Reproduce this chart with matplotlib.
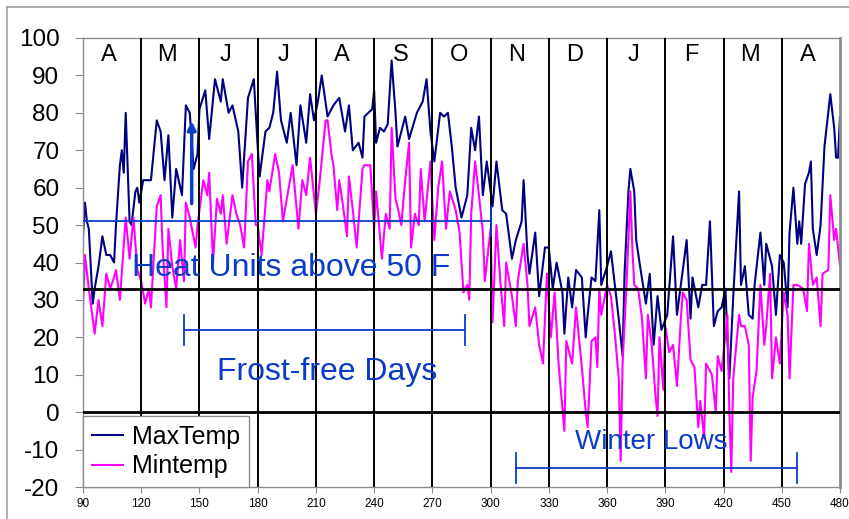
import matplotlib
matplotlib.use("Agg")
import matplotlib.pyplot as plt
from matplotlib.lines import Line2D

plt.rcParams['font.family'] = ['Liberation Sans', 'DejaVu Sans']
plt.rcParams['axes.unicode_minus'] = False


# Month letters along the top, April through the following April
months = ['A', 'M', 'J', 'J', 'A', 'S', 'O', 'N', 'D', 'J', 'F', 'M', 'A']

# Daily highs (day of year, deg F)
max_day = [90, 91, 92, 93, 95, 96, 98, 100, 102, 104,
           106, 107, 109, 110, 111, 112, 114, 115, 117, 118,
           119, 121, 123, 125, 128, 130, 132, 134, 136, 138,
           141, 143, 145, 147, 149, 150, 153, 155, 158, 161,
           162, 165, 167, 170, 172, 175, 178, 180, 181, 184,
           186, 188, 190, 192, 195, 197, 200, 202, 205, 207,
           209, 211, 213, 216, 219, 222, 225, 227, 229, 232,
           234, 235, 239, 240, 241, 243, 245, 247, 249, 251,
           252, 256, 258, 262, 265, 267, 269, 271, 274, 276,
           278, 280, 282, 285, 288, 290, 292, 294, 296, 298,
           301, 303, 306, 308, 311, 313, 316, 317, 319, 320,
           323, 325, 328, 330, 332, 334, 337, 338, 340, 342,
           344, 347, 349, 350, 352, 354, 356, 357, 360, 362,
           364, 366, 368, 369, 371, 372, 374, 375, 377, 380,
           382, 384, 386, 388, 391, 394, 396, 398, 401, 403,
           404, 407, 409, 411, 413, 415, 417, 419, 421, 422,
           423, 425, 428, 429, 431, 433, 435, 436, 439, 441,
           442, 445, 447, 449, 451, 453, 454, 456, 458, 459,
           460, 462, 464, 465, 466, 468, 470, 472, 475, 477,
           478, 479, 480]
max_temp = [47, 56, 51, 49, 29, 33, 39, 47, 42, 42,
            40, 50, 66, 70, 64, 80, 51, 50, 59, 60,
            56, 62, 62, 62, 78, 75, 62, 74, 52, 65,
            58, 82, 80, 65, 69, 81, 86, 73, 89, 83,
            89, 80, 82, 75, 60, 84, 89, 71, 63, 75,
            76, 80, 91, 78, 72, 80, 66, 82, 72, 85,
            78, 83, 90, 79, 82, 84, 75, 82, 70, 72,
            68, 79, 81, 86, 72, 76, 75, 77, 94, 80,
            71, 79, 73, 80, 83, 89, 75, 67, 80, 79,
            80, 71, 60, 52, 58, 76, 70, 79, 58, 67,
            55, 67, 54, 53, 41, 46, 51, 62, 42, 37,
            48, 31, 44, 44, 33, 40, 32, 21, 36, 28,
            38, 36, 20, 26, 36, 35, 54, 34, 39, 43,
            34, 25, 15, 37, 59, 65, 59, 46, 39, 29,
            37, 18, 31, 22, 26, 47, 26, 34, 46, 25,
            36, 28, 34, 34, 51, 23, 27, 28, 33, 19,
            9, 31, 59, 34, 39, 26, 25, 34, 48, 34,
            45, 39, 26, 42, 40, 28, 48, 60, 45, 51,
            45, 61, 64, 67, 49, 42, 50, 71, 85, 76,
            68, 68, 79]

# Daily lows
min_day = [90, 91, 93, 96, 98, 100, 102, 104, 106, 107,
           109, 112, 114, 116, 118, 120, 122, 124, 125, 128,
           130, 131, 133, 134, 136, 138, 140, 142, 143, 145,
           148, 149, 152, 154, 155, 157, 159, 161, 162, 164,
           167, 169, 171, 173, 175, 177, 179, 180, 182, 185,
           186, 189, 191, 193, 196, 198, 201, 203, 205, 207,
           209, 210, 212, 215, 216, 218, 219, 221, 222, 224,
           226, 227, 229, 231, 234, 235, 238, 240, 241, 244,
           246, 248, 249, 251, 252, 254, 256, 258, 259, 261,
           263, 264, 266, 269, 271, 273, 275, 277, 279, 282,
           284, 286, 288, 289, 290, 292, 294, 296, 297, 300,
           301, 303, 305, 307, 308, 311, 313, 314, 317, 319,
           320, 323, 325, 327, 329, 331, 333, 335, 338, 339,
           342, 344, 347, 349, 350, 352, 354, 355, 356, 357,
           360, 362, 364, 366, 367, 368, 370, 372, 373, 374,
           376, 378, 380, 381, 383, 385, 386, 387, 389, 390,
           392, 394, 396, 398, 399, 401, 403, 405, 407, 408,
           410, 411, 414, 416, 417, 419, 422, 423, 424, 425,
           428, 429, 431, 433, 434, 435, 437, 439, 441, 442,
           444, 445, 447, 449, 451, 453, 454, 456, 458, 461,
           463, 464, 466, 468, 470, 471, 474, 475, 477, 478,
           480]
min_temp = [28, 42, 33, 21, 30, 23, 37, 33, 36, 38,
            30, 52, 41, 52, 38, 35, 29, 33, 28, 55,
            58, 44, 28, 49, 39, 33, 46, 35, 56, 52,
            44, 50, 62, 58, 64, 40, 57, 53, 58, 45,
            58, 53, 50, 44, 67, 69, 50, 50, 42, 62,
            59, 69, 64, 51, 60, 66, 49, 62, 58, 68,
            58, 53, 62, 78, 78, 69, 66, 54, 62, 55,
            47, 63, 54, 44, 65, 66, 66, 49, 59, 41,
            53, 49, 76, 57, 55, 50, 62, 72, 44, 53,
            50, 65, 51, 67, 46, 60, 67, 49, 59, 54,
            48, 32, 34, 30, 53, 67, 58, 48, 35, 49,
            24, 50, 35, 23, 40, 31, 23, 35, 45, 34,
            23, 28, 18, 13, 37, 20, 32, 13, -5, 19,
            13, 28, 12, 0, -4, 19, 20, 12, 33, 26,
            34, 31, 21, 9, -13, 13, 34, 59, 44, 34,
            33, 25, 9, 26, 18, 4, -1, 20, 6, 23,
            16, 18, 7, 25, 32, 30, 14, 12, -4, 3,
            -7, 13, 10, 0, 15, 11, 26, 0, -16, 9,
            26, 23, 23, 18, -13, 4, 11, 34, 18, 23,
            37, 9, 20, 13, 32, 26, 9, 34, 34, 33,
            27, 45, 34, 36, 23, 37, 38, 58, 46, 49,
            39]

NAVY = '#000080'
PINK = '#FF00FF'
BLUE = '#0A3CC8'
GREY = '#8C8C8C'

fig = plt.figure(figsize=(8.49, 5.19), dpi=100)
ax = fig.add_axes([83 / 849, 32 / 519, 757 / 849, 449 / 519])

# outer border of the chart area
fig.add_artist(Line2D([7 / 849, 7 / 849], [0, 1 - 7 / 519], transform=fig.transFigure,
                      color='#A0A0A0', lw=1.2))
fig.add_artist(Line2D([7 / 849, 1], [1 - 7 / 519, 1 - 7 / 519], transform=fig.transFigure,
                      color='#A0A0A0', lw=1.2))

ax.plot(max_day, max_temp, color=NAVY, lw=1.5, label='MaxTemp', zorder=2)
ax.plot(min_day, min_temp, color=PINK, lw=1.5, label='Mintemp', zorder=2)

ax.set_xlim(90, 480)
ax.set_ylim(-20, 100)
ax.set_xticks(range(90, 481, 30))
ax.set_yticks(range(-20, 101, 10))
ax.tick_params(axis='y', labelsize=17.5, length=6, color=GREY, pad=11)
ax.tick_params(axis='x', labelsize=8.5, length=4, color=GREY, pad=4)
for s in ax.spines.values():
    s.set_color(GREY)
    s.set_linewidth(1)
ax.spines['right'].set_linewidth(2)

# 30-day divisions and the reference lines
for d in range(120, 480, 30):
    ax.axvline(d, color='black', lw=1.4, zorder=3)
ax.axhline(33, color='black', lw=2, zorder=3)
ax.axhline(0, color='black', lw=2, zorder=6)

for i, m in enumerate(months):
    ax.text(105 + 30 * i - 1.5, 95.5, m, ha='center', va='center', fontsize=17)

# heat units line (50 F) up to day 300
ax.plot([90, 300], [51, 51], color=BLUE, lw=1.3, zorder=4)
ax.plot([300, 300], [47, 55], color=BLUE, lw=1.3, zorder=4)
ax.annotate('', xy=(146, 78.5), xytext=(146, 55),
            arrowprops=dict(arrowstyle='-|>', color=BLUE, lw=2.5, mutation_scale=12),
            zorder=4)
ax.text(197, 38.5, 'Heat Units above 50 F', color=BLUE, fontsize=23,
        ha='center', va='center', zorder=4)

# frost-free span
ax.plot([142, 287], [22, 22], color=BLUE, lw=1.3, zorder=4)
for d in (142, 287):
    ax.plot([d, d], [18, 26], color=BLUE, lw=1.3, zorder=4)
ax.text(216, 10.7, 'Frost-free Days', color=BLUE, fontsize=23,
        ha='center', va='center', zorder=4)

# winter lows span
ax.plot([313, 458], [-15, -15], color=BLUE, lw=1.3, zorder=4)
for d in (313, 458):
    ax.plot([d, d], [-19, -11], color=BLUE, lw=1.3, zorder=4)
ax.text(383, -8, 'Winter Lows', color=BLUE, fontsize=20,
        ha='center', va='center', zorder=4)

leg = ax.legend(loc='lower left', bbox_to_anchor=(0, 0), borderaxespad=0,
                fontsize=18, handlelength=1.25, handletextpad=0.35,
                labelspacing=0.22, borderpad=0.35, fancybox=False, framealpha=1)
leg.get_frame().set_edgecolor(GREY)
leg.get_frame().set_linewidth(1)

fig.savefig('out.png', dpi=100)
